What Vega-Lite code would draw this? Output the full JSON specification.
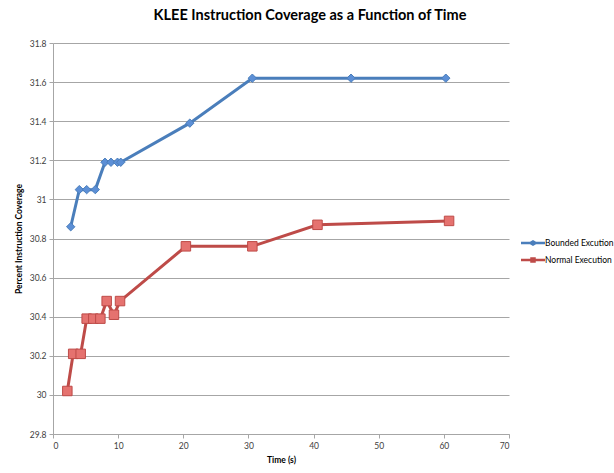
{
  "$schema": "https://vega.github.io/schema/vega-lite/v6.json",
  "width": 456,
  "height": 391,
  "autosize": {"type": "none"},
  "padding": {"left": 53, "top": 43, "right": 105, "bottom": 39},
  "background": "white",
  "title": {
    "text": "KLEE Instruction Coverage as a Function of Time",
    "font": "Lato",
    "fontSize": 14.5,
    "fontWeight": "bold",
    "color": "#000000",
    "anchor": "middle",
    "dx": 29,
    "offset": 16
  },
  "config": {
    "view": {"stroke": null},
    "font": "Lato"
  },
  "data": {
    "values": [
      {"series": "Bounded Excution", "time": 2.72, "coverage": 30.86},
      {"series": "Bounded Excution", "time": 4.04, "coverage": 31.05},
      {"series": "Bounded Excution", "time": 5.17, "coverage": 31.05},
      {"series": "Bounded Excution", "time": 6.49, "coverage": 31.05},
      {"series": "Bounded Excution", "time": 7.98, "coverage": 31.19},
      {"series": "Bounded Excution", "time": 8.9, "coverage": 31.19},
      {"series": "Bounded Excution", "time": 9.9, "coverage": 31.19},
      {"series": "Bounded Excution", "time": 10.4, "coverage": 31.19},
      {"series": "Bounded Excution", "time": 21.0, "coverage": 31.39},
      {"series": "Bounded Excution", "time": 30.6, "coverage": 31.62},
      {"series": "Bounded Excution", "time": 45.75, "coverage": 31.62},
      {"series": "Bounded Excution", "time": 60.3, "coverage": 31.62},
      {"series": "Normal Execution", "time": 2.2, "coverage": 30.02},
      {"series": "Normal Execution", "time": 3.1, "coverage": 30.21},
      {"series": "Normal Execution", "time": 4.25, "coverage": 30.21},
      {"series": "Normal Execution", "time": 5.17, "coverage": 30.39},
      {"series": "Normal Execution", "time": 6.19, "coverage": 30.39},
      {"series": "Normal Execution", "time": 7.27, "coverage": 30.39},
      {"series": "Normal Execution", "time": 8.24, "coverage": 30.48},
      {"series": "Normal Execution", "time": 9.36, "coverage": 30.41},
      {"series": "Normal Execution", "time": 10.29, "coverage": 30.48},
      {"series": "Normal Execution", "time": 20.4, "coverage": 30.76},
      {"series": "Normal Execution", "time": 30.6, "coverage": 30.76},
      {"series": "Normal Execution", "time": 40.6, "coverage": 30.87},
      {"series": "Normal Execution", "time": 60.8, "coverage": 30.89}
    ]
  },
  "encoding": {
    "x": {
      "field": "time",
      "type": "quantitative",
      "scale": {"domain": [0, 70], "nice": false, "zero": false},
      "axis": {
        "title": "Time (s)",
        "values": [0, 10, 20, 30, 40, 50, 60, 70],
        "grid": false,
        "domainColor": "#A6A6A6",
        "tickColor": "#A6A6A6",
        "tickSize": 4,
        "labelFont": "Lato",
        "labelFontSize": 8.5,
        "labelColor": "#404040",
        "labelPadding": 3,
        "titleFont": "Lato",
        "titleFontSize": 8.5,
        "titleFontWeight": "bold",
        "titleColor": "#000000",
        "titlePadding": 6
      }
    },
    "y": {
      "field": "coverage",
      "type": "quantitative",
      "scale": {"domain": [29.8, 31.8], "nice": false, "zero": false},
      "axis": {
        "title": "Percent Instruction Coverage",
        "values": [29.8, 30, 30.2, 30.4, 30.6, 30.8, 31, 31.2, 31.4, 31.6, 31.8],
        "format": ".3~r",
        "grid": true,
        "gridColor": "#A6A6A6",
        "gridWidth": 1,
        "domainColor": "#A6A6A6",
        "tickColor": "#A6A6A6",
        "tickSize": 4,
        "labelFont": "Lato",
        "labelFontSize": 8.5,
        "labelColor": "#404040",
        "labelPadding": 3,
        "titleFont": "Lato",
        "titleFontSize": 8.5,
        "titleFontWeight": "bold",
        "titleColor": "#000000",
        "titlePadding": 6
      }
    }
  },
  "layer": [
    {
      "mark": {"type": "line", "strokeWidth": 3},
      "encoding": {
        "stroke": {
          "field": "series",
          "type": "nominal",
          "scale": {"domain": ["Bounded Excution", "Normal Execution"], "range": ["#4A7EBB", "#BE4B48"]},
          "legend": {
            "title": null,
            "orient": "none",
            "legendX": 475,
            "legendY": 195,
            "symbolSize": 100,
            "symbolType": "M-2.4,-0.3H2.4V0.3H-2.4Z",
            "symbolStrokeWidth": 0,
            "labelOffset": 7,
            "labelFont": "Lato",
            "labelFontSize": 8.5,
            "labelColor": "#000000",
            "rowPadding": 7,
            "encode": {
              "symbols": {
                "update": {
                  "shape": {"signal": "datum.value == 'Bounded Excution' ? 'M-2.4,-0.25H-0.6L0,-0.6L0.6,-0.25H2.4V0.25H0.6L0,0.6L-0.6,0.25H-2.4Z' : 'M-2.4,-0.25H-0.55V-0.55H0.55V-0.25H2.4V0.25H0.55V0.55H-0.55V0.25H-2.4Z'"},
                  "fill": {"signal": "datum.value == 'Bounded Excution' ? '#4A7EBB' : '#BE4B48'"},
                  "fillOpacity": {"value": 1},
                  "strokeWidth": {"value": 0}
                }
              }
            }
          }
        }
      }
    },
    {
      "mark": {"type": "point", "filled": true, "opacity": 1, "strokeWidth": 1},
      "encoding": {
        "shape": {
          "condition": {"test": "datum.series == 'Bounded Excution'", "value": "diamond"},
          "value": "square"
        },
        "fill": {
          "condition": {"test": "datum.series == 'Bounded Excution'", "value": "#5C8FD6"},
          "value": "#E5726F"
        },
        "stroke": {
          "condition": {"test": "datum.series == 'Bounded Excution'", "value": "#4A7EBB"},
          "value": "#BE4B48"
        },
        "size": {
          "condition": {"test": "datum.series == 'Bounded Excution'", "value": 70},
          "value": 90
        }
      }
    }
  ]
}
